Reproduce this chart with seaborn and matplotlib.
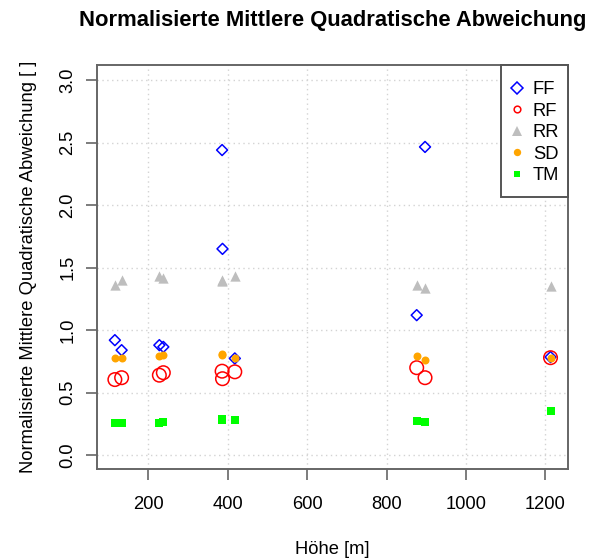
import numpy as np
import pandas as pd
import matplotlib
matplotlib.use("Agg")
import matplotlib.pyplot as plt
from matplotlib.lines import Line2D
from matplotlib.patches import Rectangle
import seaborn as sns

# Stationshoehen [m] und normalisierte RMSE je Modell
hoehe = [116, 133, 228, 238, 386, 387, 418, 876, 897, 1213]
ff = [0.92, 0.84, 0.88, 0.866, 2.44, 1.65, 0.774, 1.12, 2.465, 0.785]
rf = [0.605, 0.62, 0.64, 0.66, 0.672, 0.612, 0.667, 0.70, 0.62, 0.78]
rr = [1.36, 1.405, 1.43, 1.42, 1.40, 1.39, 1.43, 1.36, 1.34, 1.35]
sd = [0.78, 0.78, 0.79, 0.80, 0.806, 0.80, 0.774, 0.792, 0.765, 0.78]
tm = [0.26, 0.258, 0.26, 0.266, 0.293, 0.285, 0.28, 0.272, 0.262, 0.355]

modelle = ["FF", "RF", "RR", "SD", "TM"]
werte = [ff, rf, rr, sd, tm]

df = pd.DataFrame({"hoehe": np.tile(hoehe, len(modelle)),
                   "wert": np.concatenate(werte),
                   "modell": np.repeat(modelle, len(hoehe))})

sns.set_style("white")
plt.rcParams["font.family"] = ["Liberation Sans", "DejaVu Sans"]
plt.rcParams["text.color"] = "black"
plt.rcParams["axes.labelcolor"] = "black"

fs = 13.2
rahmen = "#666666"

# marker, farbe, gefuellt, groesse im plot
stil = {
    "FF": ("D", "#0000FF", False, 31),
    "RF": ("o", "#FF0000", False, 95),
    "RR": ("^", "#BEBEBE", True, 55),
    "SD": ("o", "#FFA500", True, 33),
    "TM": ("s", "#00FF00", True, 33),
}

fig = plt.figure(figsize=(5.93, 5.6), dpi=100)
ax = fig.add_axes([97 / 593, 1 - 469 / 560, 471 / 593, 404 / 560])

for m in modelle:
    mk, col, filled, size = stil[m]
    sub = df[df["modell"] == m]
    if filled:
        sns.scatterplot(data=sub, x="hoehe", y="wert", marker=mk, color=col,
                        s=size, linewidth=0, ax=ax, legend=False, zorder=3)
    else:
        sns.scatterplot(data=sub, x="hoehe", y="wert", marker=mk,
                        facecolors="none", edgecolor=col, s=size,
                        linewidth=1.1, ax=ax, legend=False, zorder=3)

ax.set_xlim(71, 1257)
ax.set_ylim(-0.11, 3.12)
ax.set_xticks([200, 400, 600, 800, 1000, 1200])
ax.set_yticks(np.arange(0, 3.01, 0.5))
ax.set_yticklabels([f"{v:.1f}" for v in np.arange(0, 3.01, 0.5)],
                   rotation=90, va="center")
ax.grid(True, color="#D3D3D3", linestyle=(0, (1, 2.5)), linewidth=1)
ax.tick_params(axis="both", length=8, width=1.2, color=rahmen,
               labelcolor="black", labelsize=fs, direction="out",
               bottom=True, left=True)
ax.tick_params(axis="x", pad=11.5)
ax.tick_params(axis="y", pad=7)
for sp in ax.spines.values():
    sp.set_color(rahmen)
    sp.set_linewidth(1.4)

ax.set_xlabel("Höhe [m]", fontsize=fs, labelpad=20)
ax.set_ylabel("Normalisierte Mittlere Quadratische Abweichung [ ]",
              fontsize=fs, labelpad=16)
ax.set_title("Normalisierte Mittlere Quadratische Abweichung",
             fontsize=15.8, fontweight="bold", pad=28)

# Legendenkasten wie in R: oben rechts buendig
ax.add_patch(Rectangle((0.857, 0.674), 0.143, 0.326, transform=ax.transAxes,
                       facecolor="white", edgecolor="#555555", linewidth=1.4,
                       zorder=4.5, clip_on=False))

handles = []
leg_size = {"FF": 6.5, "RF": 4.8, "RR": 7.5, "SD": 5.3, "TM": 4.6}
for m in modelle:
    mk, col, filled, size = stil[m]
    handles.append(Line2D([], [], linestyle="none", marker=mk,
                          markersize=leg_size[m],
                          markerfacecolor=col if filled else "none",
                          markeredgecolor=col,
                          markeredgewidth=0 if filled else 1.1))
leg = ax.legend(handles, modelle, loc="upper left",
                bbox_to_anchor=(0.883, 0.960), fontsize=fs, frameon=False,
                borderaxespad=0, borderpad=0, labelspacing=0.245,
                handlelength=0.4, handletextpad=0.69)

fig.savefig("out.png", dpi=100)
